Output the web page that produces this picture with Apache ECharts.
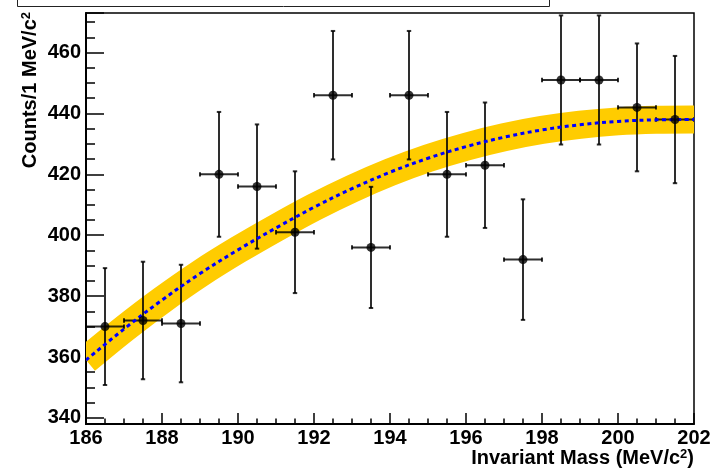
<!DOCTYPE html>
<html>
<head>
<meta charset="utf-8">
<script src="https://cdn.jsdelivr.net/npm/echarts@6/dist/echarts.min.js"></script>
<style>
html,body{margin:0;padding:0;background:#fff;}
#chart{width:716px;height:469px;}
</style>
</head>
<body>
<div id="chart"></div>
<script>
// ---- data ----
const binCenters = [186.5, 187.5, 188.5, 189.5, 190.5, 191.5, 192.5, 193.5, 194.5, 195.5, 196.5, 197.5, 198.5, 199.5, 200.5, 201.5];
const binHalfWidths = [0.5, 0.5, 0.5, 0.5, 0.5, 0.5, 0.5, 0.5, 0.5, 0.5, 0.5, 0.5, 0.5, 0.5, 0.5, 0.5];
const counts = [370, 372, 371, 420, 416, 401, 446, 396, 446, 420, 423, 392, 451, 451, 442, 438];
const countErrors = [19.2, 19.3, 19.3, 20.5, 20.4, 20.0, 21.1, 19.9, 21.1, 20.5, 20.6, 19.8, 21.2, 21.2, 21.0, 20.9];
const fitMass = [186, 187, 188, 189, 190, 191, 192, 193, 194, 195, 196, 197, 198, 199, 200, 201, 202];
const fitValues = [359.0, 369.2, 378.7, 387.4, 395.2, 402.4, 409.2, 415.3, 420.7, 425.3, 429.1, 432.2, 434.6, 436.3, 437.4, 437.9, 438.0];
const xTitle = 'Invariant Mass (MeV/c{s|2})';
const yTitle = 'Counts/1 MeV/c{s|2}';

const FONT = 'Liberation Sans';
const pointData = binCenters.map((x, i) => [x, counts[i]]);
const errData = binCenters.map((x, i) => [x, counts[i], binHalfWidths[i], countErrors[i]]);
const fitData = fitMass.map((x, i) => [x, fitValues[i]]);

const chart = echarts.init(document.getElementById('chart'), null, {renderer: 'canvas'});
const barColor = 'rgba(0,0,0,0.82)';

function curveRenderer(styleObj) {
  return function (params, api) {
    if (params.dataIndex !== 0) return null;
    const pts = fitData.map(p => api.coord(p));
    return {type: 'polyline', shape: {points: pts, smooth: 0.35}, style: Object.assign({fill: null}, styleObj)};
  };
}

chart.setOption({
  animation: false,
  backgroundColor: '#fff',
  grid: {left: 86, right: 22, top: 13, bottom: 45, show: true, borderColor: '#000', borderWidth: 1.5, backgroundColor: 'transparent'},
  xAxis: {
    type: 'value', min: 186, max: 202, interval: 2,
    axisLine: {show: true, onZero: false, lineStyle: {color: '#000', width: 2}},
    axisTick: {show: true, inside: true, length: 11, lineStyle: {color: '#000', width: 1.5}},
    minorTick: {show: true, splitNumber: 4, length: 5.5, lineStyle: {color: '#000', width: 1.5}},
    splitLine: {show: false},
    axisLabel: {color: '#000', fontFamily: FONT, fontWeight: 'bold', fontSize: 20, margin: 4}
  },
  yAxis: {
    type: 'value', min: 338, max: 473, splitNumber: 7,
    axisLine: {show: true, onZero: false, lineStyle: {color: '#000', width: 2}},
    axisTick: {show: true, inside: true, length: 18, lineStyle: {color: '#000', width: 1.5}},
    minorTick: {show: true, splitNumber: 4, length: 9, lineStyle: {color: '#000', width: 1.5}},
    splitLine: {show: false},
    axisLabel: {color: '#000', fontFamily: FONT, fontWeight: 'bold', fontSize: 20, margin: 5, showMinLabel: false, showMaxLabel: false}
  },
  series: [
    {
      type: 'custom', data: fitData, clip: true, z: 1,
      renderItem: curveRenderer({stroke: '#ffcc00', lineWidth: 28, lineCap: 'butt'})
    },
    {
      type: 'custom', data: errData, clip: true, z: 2,
      renderItem: function (params, api) {
        const x = api.value(0), y = api.value(1), ex = api.value(2), ey = api.value(3);
        const top = api.coord([x, y + ey]);
        const bot = api.coord([x, y - ey]);
        const lft = api.coord([x - ex, y]);
        const rgt = api.coord([x + ex, y]);
        const c = 2.2;
        const st = {stroke: barColor, lineWidth: 2};
        return {type: 'group', children: [
          {type: 'line', shape: {x1: top[0], y1: top[1], x2: bot[0], y2: bot[1]}, style: st},
          {type: 'line', shape: {x1: lft[0], y1: lft[1], x2: rgt[0], y2: rgt[1]}, style: st},
          {type: 'line', shape: {x1: top[0] - c, y1: top[1], x2: top[0] + c, y2: top[1]}, style: st},
          {type: 'line', shape: {x1: bot[0] - c, y1: bot[1], x2: bot[0] + c, y2: bot[1]}, style: st},
          {type: 'line', shape: {x1: lft[0], y1: lft[1] - c, x2: lft[0], y2: lft[1] + c}, style: st},
          {type: 'line', shape: {x1: rgt[0], y1: rgt[1] - c, x2: rgt[0], y2: rgt[1] + c}, style: st}
        ]};
      }
    },
    {
      type: 'custom', data: fitData, clip: true, z: 3,
      renderItem: curveRenderer({stroke: '#0000ff', lineWidth: 3, lineDash: [4, 3.5], lineCap: 'butt'})
    },
    {
      type: 'scatter', data: pointData, symbol: 'circle', symbolSize: 9, z: 4,
      itemStyle: {color: '#000'}
    }
  ],
  graphic: [
    {type: 'rect', shape: {x: 17.5, y: -10, width: 532, height: 16.5}, style: {fill: '#fff', stroke: '#222', lineWidth: 1}, z: 10},
    {type: 'text', x: 30, y: 12, rotation: Math.PI / 2, z: 10,
      style: {text: yTitle, fill: '#000', font: 'bold 20px "Liberation Sans"', align: 'right', verticalAlign: 'middle',
        rich: {s: {fontSize: 13, fontWeight: 'bold', fontFamily: FONT, verticalAlign: 'top', fill: '#000'}}}},
    {type: 'text', x: 694, y: 458, z: 10,
      style: {text: xTitle, fill: '#000', font: 'bold 20px "Liberation Sans"', align: 'right', verticalAlign: 'middle',
        rich: {s: {fontSize: 13, fontWeight: 'bold', fontFamily: FONT, verticalAlign: 'top', fill: '#000'}}}}
  ]
});
</script>
</body>
</html>
